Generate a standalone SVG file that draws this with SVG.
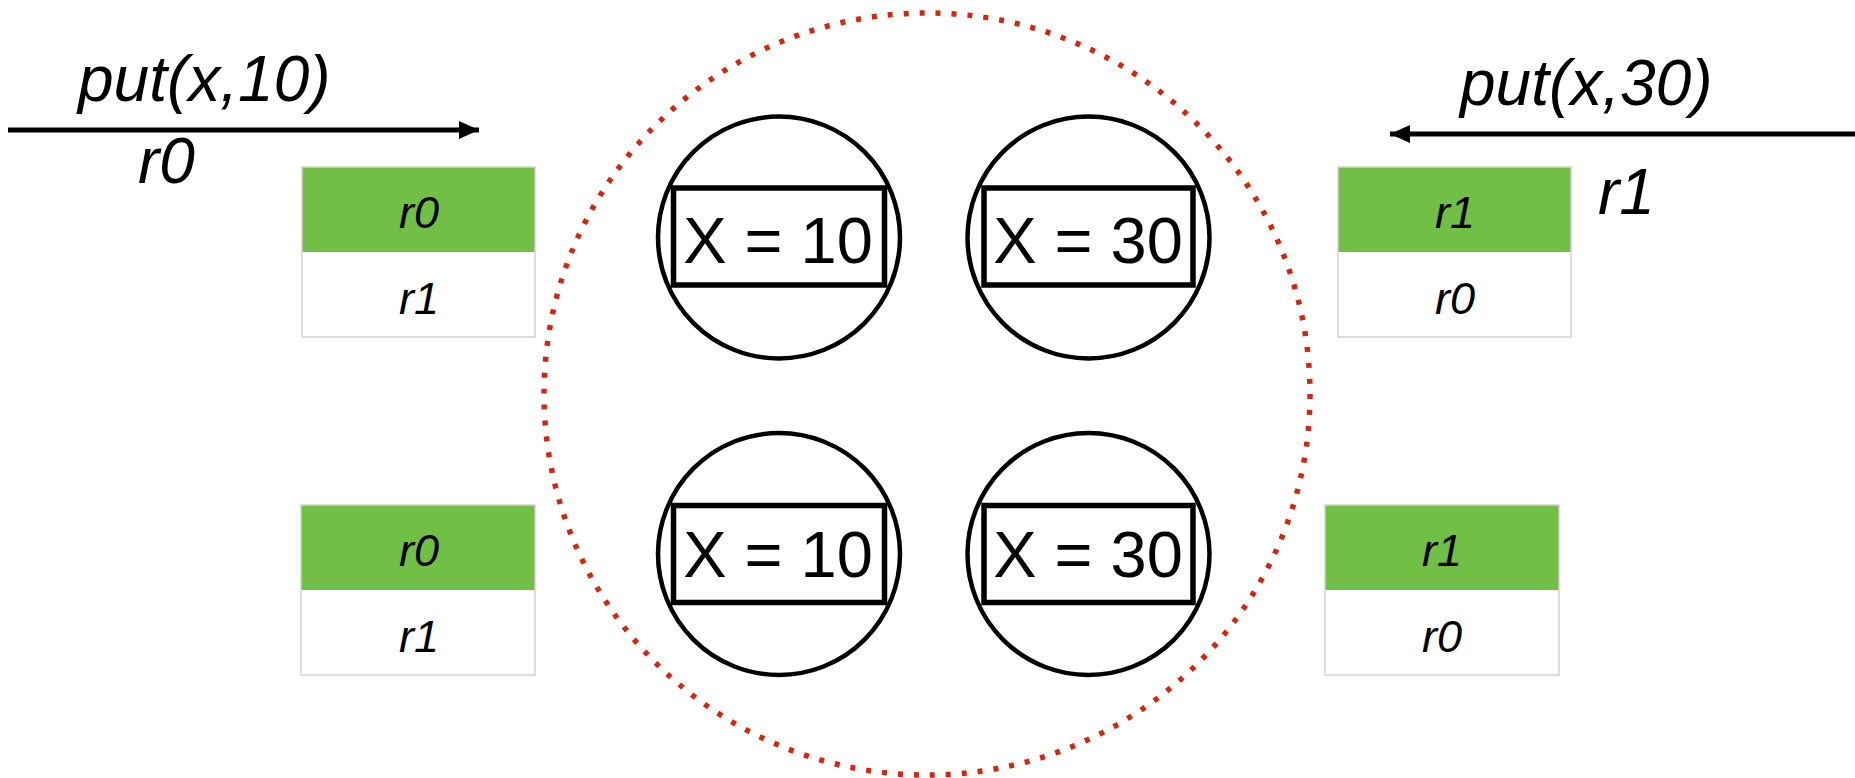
<svg xmlns="http://www.w3.org/2000/svg" width="1855" height="778" viewBox="0 0 1855 778">
<style>
.lbl{font-family:"Liberation Sans",Arial,sans-serif;font-style:italic;font-size:64px;fill:#000}
.cell{font-family:"Liberation Sans",Arial,sans-serif;font-style:italic;font-size:45px;fill:#000;text-anchor:middle}
.val{font-family:"Liberation Sans",Arial,sans-serif;font-size:65px;fill:#000;text-anchor:middle}
.green{fill:#71BF44}
.box{fill:none;stroke:#d2d2d2;stroke-width:1.5}
.node{fill:none;stroke:#000;stroke-width:4.5}
.inner{fill:none;stroke:#000;stroke-width:5.5}
.conn{stroke:#000;stroke-width:5;fill:none}
</style>
<defs>
<marker id="ah" markerWidth="20" markerHeight="18" refX="20" refY="9" orient="auto" markerUnits="userSpaceOnUse">
<path d="M0,0 L20,9 L0,18 Z" fill="#000"/>
</marker>
</defs>

<g id="cluster">
<ellipse cx="927" cy="394" rx="383" ry="381" fill="none" stroke="#D0280E" stroke-width="5.5" stroke-dasharray="5 11"/>
</g>

<g id="connectors">
<line class="conn" x1="8" y1="130" x2="479" y2="130" marker-end="url(#ah)"/>
<line class="conn" x1="1855" y1="134" x2="1390" y2="134" marker-end="url(#ah)"/>
</g>

<g id="label-put10"><text class="lbl" x="78" y="101">put(x,10)</text></g>
<g id="label-put30"><text class="lbl" x="1460" y="105">put(x,30)</text></g>
<g id="label-r0"><text class="lbl" x="138" y="183">r0</text></g>
<g id="label-r1"><text class="lbl" x="1598" y="214">r1</text></g>

<g id="queue-tl">
<rect class="green" x="302" y="167" width="233" height="85"/>
<rect class="box" x="302" y="167" width="233" height="170"/>
<text class="cell" x="419" y="228">r0</text>
<text class="cell" x="419" y="314">r1</text>
</g>
<g id="queue-bl">
<rect class="green" x="301" y="505" width="234" height="85"/>
<rect class="box" x="301" y="505" width="234" height="170"/>
<text class="cell" x="419" y="566">r0</text>
<text class="cell" x="419" y="652">r1</text>
</g>
<g id="queue-tr">
<rect class="green" x="1338" y="167" width="233" height="85"/>
<rect class="box" x="1338" y="167" width="233" height="170"/>
<text class="cell" x="1455" y="228">r1</text>
<text class="cell" x="1455" y="314">r0</text>
</g>
<g id="queue-br">
<rect class="green" x="1325" y="505" width="234" height="85"/>
<rect class="box" x="1325" y="505" width="234" height="170"/>
<text class="cell" x="1442" y="566">r1</text>
<text class="cell" x="1442" y="652">r0</text>
</g>

<g id="replica-tl">
<circle class="node" cx="779" cy="237.5" r="121"/>
<rect class="inner" x="673.5" y="188" width="211" height="97"/>
<text class="val" x="778" y="263">X = 10</text>
</g>
<g id="replica-tr">
<circle class="node" cx="1088.5" cy="237.5" r="121"/>
<rect class="inner" x="984" y="188" width="209" height="97"/>
<text class="val" x="1088" y="263">X = 30</text>
</g>
<g id="replica-bl">
<circle class="node" cx="779" cy="554" r="121"/>
<rect class="inner" x="673.5" y="505.5" width="211" height="97"/>
<text class="val" x="778" y="577">X = 10</text>
</g>
<g id="replica-br">
<circle class="node" cx="1088.5" cy="554" r="121"/>
<rect class="inner" x="984" y="505.5" width="209" height="97"/>
<text class="val" x="1088" y="577">X = 30</text>
</g>
</svg>
